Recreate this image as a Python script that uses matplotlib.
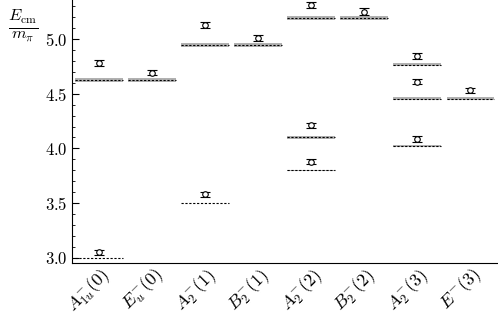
import numpy as np
import matplotlib.pyplot as plt

plt.rcParams['mathtext.fontset'] = 'cm'
plt.rcParams['font.family'] = 'serif'
plt.rcParams['font.serif'] = ['cmr10', 'DejaVu Serif']
plt.rcParams['axes.formatter.use_mathtext'] = True

# Canales (irreps) y niveles
irreps = [r'$A_{1u}^{-}(0)$', r'$E_{u}^{-}(0)$', r'$A_{2}^{-}(1)$', r'$B_{2}^{-}(1)$',
          r'$A_{2}^{-}(2)$', r'$B_{2}^{-}(2)$', r'$A_{2}^{-}(3)$', r'$E^{-}(3)$']

# Niveles no interactuantes: (canal, energia, semi-ancho de banda)
free_idx = [0, 0, 1, 2, 2, 3, 4, 4, 4, 5, 6, 6, 6, 7]
free_E = [3.00, 4.625, 4.625, 3.50, 4.945, 4.945, 3.80, 4.10, 5.19, 5.19, 4.025, 4.455, 4.765, 4.455]
free_err = [0.0, 0.016, 0.016, 0.0, 0.016, 0.016, 0.004, 0.014, 0.016, 0.016, 0.008, 0.014, 0.016, 0.014]

# Energias de la red
lat_idx = [0, 0, 1, 2, 2, 3, 4, 4, 4, 5, 6, 6, 6, 7]
lat_E = [3.05, 4.78, 4.69, 3.58, 5.13, 5.01, 3.88, 4.21, 5.31, 5.25, 4.09, 4.61, 4.845, 4.53]
lat_err = [0.022, 0.027, 0.022, 0.022, 0.027, 0.025, 0.022, 0.025, 0.03, 0.03, 0.027, 0.025, 0.027, 0.022]

fig = plt.figure(figsize=(4.98, 3.16), dpi=100)
ax = fig.add_axes([0.145, 0.168, 0.853, 0.832])

hw = 0.45
for i, E, e in zip(free_idx, free_E, free_err):
    if e > 0:
        ax.fill_between([i - hw, i + hw], E - e, E + e, color='0.62', alpha=0.8, lw=0)
    ax.plot([i - hw, i + hw], [E, E], color='k', lw=0.8, ls=(0, (2, 1.5)))

ax.errorbar(lat_idx, lat_E, yerr=lat_err, fmt='o', ms=4, mfc='white', mec='k',
            mew=0.8, ecolor='k', elinewidth=0.8, capsize=3.5, capthick=0.8)

ax.set_xlim(-0.5, 7.5)
ax.set_ylim(2.954, 5.356)
ax.set_xticks(range(len(irreps)))
ax.set_xticklabels(irreps, rotation=45, ha='right', rotation_mode='anchor', fontsize=13)
ax.set_yticks([3.0, 3.5, 4.0, 4.5, 5.0])
ax.set_yticks(np.arange(3.0, 5.35, 0.1), minor=True)
ax.tick_params(axis='y', which='both', direction='in', labelsize=12)
ax.tick_params(axis='y', which='major', length=5)
ax.tick_params(axis='y', which='minor', length=2.5)
ax.tick_params(axis='x', length=0, pad=1)
ax.spines['top'].set_visible(False)
ax.spines['right'].set_visible(False)

fig.text(0.046, 0.92, r'$\frac{E_{\rm cm}}{m_\pi}$', fontsize=17, ha='center', va='center')

fig.savefig('out.png', dpi=100)
